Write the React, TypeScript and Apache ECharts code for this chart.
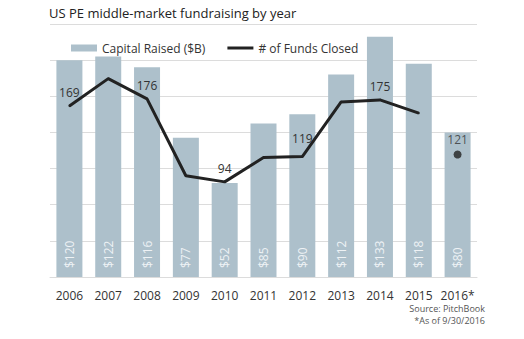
import React, { useEffect, useRef } from "react";
import * as echarts from "echarts";

const years = ["2006", "2007", "2008", "2009", "2010", "2011", "2012", "2013", "2014", "2015", "2016*"];
const capitalRaised = [120, 122, 116, 77, 52, 85, 90, 112, 133, 118, 80];
const fundsClosed: (number | string)[] = [169, 196, 176, 100, 94, 118, 119, 173, 175, 162, "-"];
const fundsClosedPartial: (number | string)[] = ["-", "-", "-", "-", "-", "-", "-", "-", "-", "-", 121];
const labeledYears = ["2006", "2008", "2010", "2012", "2014"];

const FONT = "Open Sans";

export default function App() {
  const ref = useRef<HTMLDivElement>(null);
  useEffect(() => {
    const chart = echarts.init(ref.current!, null, { renderer: "svg" });
    const lineData = fundsClosed.map((v, i) => ({
      value: v,
      label: { show: labeledYears.includes(years[i]), distance: years[i] === "2012" ? 11 : 6 },
    }));
    chart.setOption({
      animation: false,
      textStyle: { fontFamily: FONT },
      title: {
        text: "US PE middle-market fundraising by year",
        left: 44,
        top: 1,
        textStyle: { fontFamily: FONT, fontSize: 13, fontWeight: "normal", color: "#222" },
      },
      legend: {
        left: 66,
        top: 37,
        itemWidth: 26,
        itemHeight: 7,
        itemGap: 22,
        textStyle: { fontFamily: FONT, fontSize: 12, color: "#333" },
        data: [
          { name: "Capital Raised ($B)", icon: "rect" },
          { name: "# of Funds Closed", icon: "path://M0,0 H26 V3 H0 Z" },
        ],
      },
      grid: { left: 50, right: 47, top: 24, bottom: 62 },
      xAxis: {
        type: "category",
        data: years,
        axisTick: { show: false },
        axisLine: { lineStyle: { color: "#dcdcdc" } },
        axisLabel: { color: "#333", fontSize: 12, margin: 12, fontFamily: FONT, interval: 0 },
      },
      yAxis: [
        {
          type: "value",
          min: 0,
          max: 140,
          interval: 20,
          axisLabel: { show: false },
          axisLine: { show: false },
          axisTick: { show: false },
          splitLine: { lineStyle: { color: "#dcdcdc" } },
        },
        {
          type: "value",
          min: 0,
          max: 250,
          axisLabel: { show: false },
          axisLine: { show: false },
          axisTick: { show: false },
          splitLine: { show: false },
        },
      ],
      series: [
        {
          name: "Capital Raised ($B)",
          type: "bar",
          yAxisIndex: 0,
          data: capitalRaised,
          barWidth: 26,
          itemStyle: { color: "#adc0cb" },
          label: {
            show: true,
            position: "insideBottom",
            rotate: 90,
            align: "left",
            verticalAlign: "middle",
            distance: 9,
            color: "#eef2f5",
            fontSize: 12,
            fontFamily: FONT,
            formatter: (p: any) => "$" + p.value,
          },
        },
        {
          name: "# of Funds Closed",
          type: "line",
          yAxisIndex: 1,
          data: lineData,
          symbol: "circle",
          symbolSize: 2,
          itemStyle: { color: "#222" },
          lineStyle: { color: "#222", width: 3 },
          label: {
            position: "top",
            distance: 6,
            color: "#333",
            fontSize: 12,
            fontFamily: FONT,
          },
        },
        {
          name: "# of Funds Closed",
          type: "scatter",
          yAxisIndex: 1,
          data: fundsClosedPartial,
          symbolSize: 8,
          itemStyle: { color: "#222" },
          label: {
            show: true,
            position: "top",
            distance: 5,
            color: "#333",
            fontSize: 12,
            fontFamily: FONT,
          },
        },
      ],
      graphic: [
        {
          type: "text",
          right: 524 - 485,
          top: 304,
          style: { text: "Source: PitchBook", fill: "#555", font: `9px "${FONT}"`, textAlign: "right" },
        },
        {
          type: "text",
          right: 524 - 485,
          top: 316,
          style: { text: "*As of 9/30/2016", fill: "#555", font: `9px "${FONT}"`, textAlign: "right" },
        },
      ],
    });
    return () => chart.dispose();
  }, []);
  return (
    <div
      ref={ref}
      style={{ position: "fixed", left: 0, top: 0, width: 524, height: 339, background: "#fff" }}
    />
  );
}
